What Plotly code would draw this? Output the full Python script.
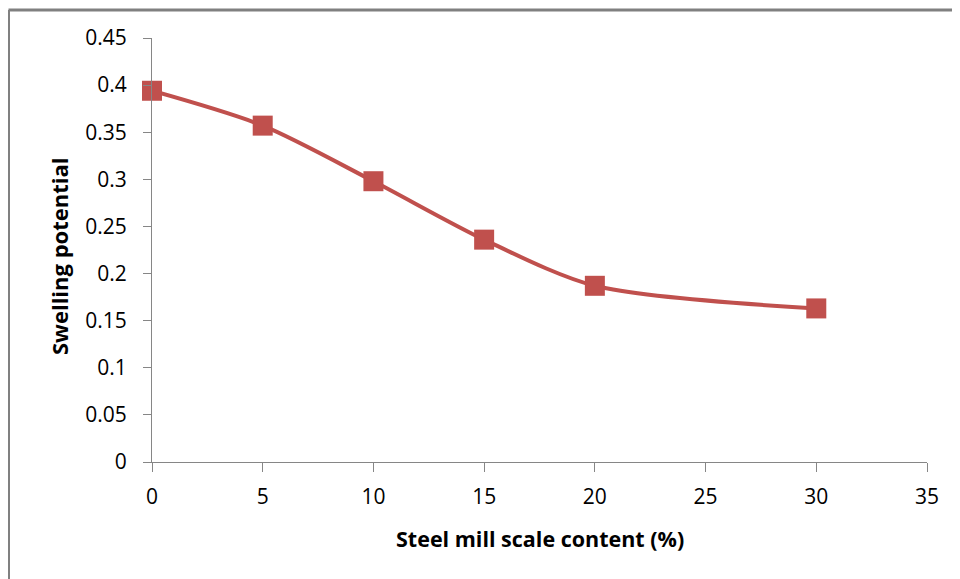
import plotly.graph_objects as go

content = [0, 5, 10, 15, 20, 30]
swelling = [0.394, 0.357, 0.298, 0.236, 0.187, 0.163]

W, H = 960, 579
OFF = 8  # page body margin offset
L, T = 144, 30
pw, ph = 775, 424
R = W - L - pw
B = H - T - ph

def px(sx):
    return (sx - OFF - L) / pw

def py(sy):
    return (T + ph - (sy - OFF)) / ph

FONT = "Open Sans, Liberation Sans, sans-serif"

fig = go.Figure()
fig.add_trace(go.Scatter(
    x=content, y=swelling, mode="lines+markers",
    line=dict(color="#C0504D", width=4, shape="spline", smoothing=0.8),
    marker=dict(symbol="square", size=20, color="#C0504D"),
    showlegend=False, cliponaxis=False,
))

tick_font = dict(family=FONT, size=21, color="#000000")
fig.update_layout(
    width=W, height=H,
    margin=dict(l=L, r=R, t=T, b=B, pad=0),
    paper_bgcolor="white", plot_bgcolor="white",
    xaxis=dict(range=[0, 35], tickvals=[0, 5, 10, 15, 20, 25, 30, 35],
               showline=True, linecolor="#868686", linewidth=1,
               ticks="outside", ticklen=9, tickcolor="#868686",
               ticklabelstandoff=7,
               showgrid=False, zeroline=False, tickfont=tick_font),
    yaxis=dict(range=[0, 0.45], tickvals=[0, 0.05, 0.1, 0.15, 0.2, 0.25, 0.3, 0.35, 0.4, 0.45],
               ticktext=["0", "0.05", "0.1", "0.15", "0.2", "0.25", "0.3", "0.35", "0.4", "0.45"],
               showline=True, linecolor="#868686", linewidth=1,
               ticks="outside", ticklen=8, tickcolor="#868686",
               ticklabelstandoff=12,
               showgrid=False, zeroline=False, tickfont=tick_font),
)

fig.add_annotation(text="<b>Steel mill scale content (%)</b>", xref="paper", yref="paper",
                   x=px(540), y=py(538), showarrow=False,
                   font=dict(family=FONT, size=21.5, color="#000"),
                   xanchor="center", yanchor="middle")
fig.add_annotation(text="<b>Swelling potential</b>", xref="paper", yref="paper",
                   x=px(59), y=py(256), showarrow=False, textangle=-90,
                   font=dict(family=FONT, size=22, color="#000"),
                   xanchor="center", yanchor="middle")

# Outer gray frame (open on right and bottom as in the cropped reference)
fig.add_shape(type="line", xref="paper", yref="paper",
              x0=px(8.5), y0=py(10), x1=px(975), y1=py(10),
              line=dict(color="#808080", width=3))
fig.add_shape(type="line", xref="paper", yref="paper",
              x0=px(8.5), y0=py(10), x1=px(8.5), y1=py(600),
              line=dict(color="#808080", width=3))

fig.write_html("out.html")
